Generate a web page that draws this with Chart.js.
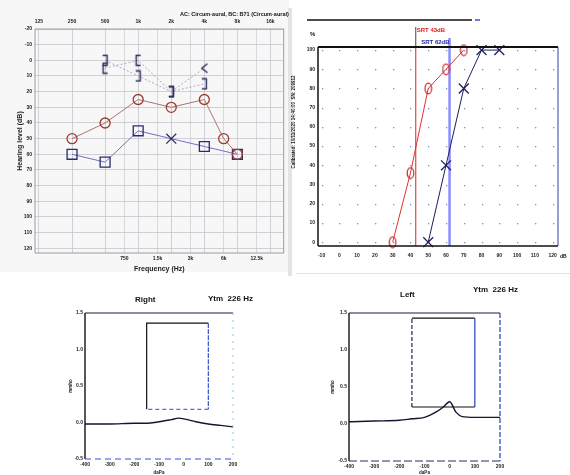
<!DOCTYPE html>
<html>
<head>
<meta charset="utf-8">
<script src="https://cdn.jsdelivr.net/npm/chart.js@4.4.1/dist/chart.umd.min.js"></script>
<style>
  html, body { margin: 0; padding: 0; background: #fff; }
  #page { position: relative; width: 570px; height: 475px; overflow: hidden; font-family: "Liberation Sans", Arial, sans-serif; }
  canvas { position: absolute; }
  .txt { position: absolute; white-space: nowrap; color: #111; font-weight: bold; }
</style>
</head>
<body>
<div id="page">
  <div style="position:absolute;left:0;top:0;width:289px;height:272px;background:#f7f7f7;"></div>
  <div style="position:absolute;left:288px;top:8px;width:4px;height:268px;background:#e4e4e8;"></div>
  <div style="position:absolute;left:296px;top:273px;width:274px;height:1px;background:#e2e2e2;"></div>

  <canvas id="audiogram" width="292" height="275" style="left:0;top:0"></canvas>
  <canvas id="speech" width="278" height="280" style="left:292px;top:0"></canvas>
  <canvas id="tympRight" width="200" height="190" style="left:50px;top:285px"></canvas>
  <canvas id="tympLeft" width="270" height="190" style="left:300px;top:285px"></canvas>

  <div class="txt" style="left:180px;top:11px;font-size:5.5px;">AC: Circum-aural, BC: B71 (Circum-aural)</div>
  <div class="txt" style="left:293px;top:122px;font-size:4.5px;transform:translate(-50%,-50%) rotate(-90deg);">Calibrated: 10/11/2020 14:40:00&nbsp; SN: 209912</div>
  <div class="txt" style="left:310px;top:31px;font-size:6px;">%</div>
  <div class="txt" style="left:560px;top:253px;font-size:5px;">dB</div>

  <div class="txt" style="left:135px;top:295px;font-size:8px;">Right</div>
  <div class="txt" style="left:208px;top:294px;font-size:8px;">Ytm&nbsp; 226 Hz</div>
  <div class="txt" style="left:400px;top:290px;font-size:8px;">Left</div>
  <div class="txt" style="left:473px;top:285px;font-size:8px;">Ytm&nbsp; 226 Hz</div>
</div>

<script>
// ---------- audiogram ----------
const octaveFreqs = [125, 250, 500, 1000, 2000, 4000, 8000, 16000];
const octaveLabels = ['125', '250', '500', '1k', '2k', '4k', '8k', '16k'];
const midFreqs = [750, 1500, 3000, 6000, 12000];
const midLabels = ['750', '1.5k', '3k', '6k', '12.5k'];
const hearingTicks = [-20, -10, 0, 10, 20, 30, 40, 50, 60, 70, 80, 90, 100, 110, 120];

const acFreqsRight = [250, 500, 1000, 2000, 4000, 6000, 8000];
const acRight = [50, 40, 25, 30, 25, 50, 60];
const acFreqsLeft = [250, 500, 1000, 2000, 4000, 8000];
const acLeft = [60, 65, 45, 50, 55, 60];
const acLeftSymbols = ['rect', 'rect', 'rect', 'crossRot', 'rect', 'rect'];
const bcFreqs = [500, 1000, 2000, 4000];
const bcRight = [5, 0, 20, 5];
const bcRightSymbols = ['[', '[', ']', '<'];
const bcLeft = [0, 10, 20, 15];

// ---------- speech audiometry ----------
const speechLevelTicks = [-10, 0, 10, 20, 30, 40, 50, 60, 70, 80, 90, 100, 110, 120];
const scoreTicks = [0, 10, 20, 30, 40, 50, 60, 70, 80, 90, 100];
const speechLevelsRight = [30, 40, 50, 60, 70];
const speechScoresRight = [0, 36, 80, 90, 100];
const speechLevelsLeft = [50, 60, 70, 80, 90];
const speechScoresLeft = [0, 40, 80, 100, 100];
const srtRight = 43;
const srtLeft = 62;

// ---------- tympanograms ----------
const pressureTicks = [-400, -300, -200, -100, 0, 100, 200];
const admittanceTicks = [-0.5, 0.0, 0.5, 1.0, 1.5];
const tympPressureRight = [-400, -300, -200, -150, -100, -50, -20, 0, 50, 100, 150, 200];
const tympRight = [-0.02, -0.02, -0.01, -0.01, 0.01, 0.04, 0.06, 0.05, 0.01, -0.02, -0.04, -0.06];
const tympPressureLeft = [-400, -300, -200, -150, -100, -50, -25, 0, 25, 50, 100, 150, 200];
const tympLeft = [0.03, 0.04, 0.05, 0.07, 0.09, 0.17, 0.23, 0.30, 0.16, 0.10, 0.09, 0.09, 0.09];
const normBoxRight = { pressure: [-150, 100], admittance: [0.18, 1.36] };
const normBoxLeft = { pressure: [-150, 100], admittance: [0.23, 1.43] };

// helpers
const oct = f => Math.log2(f / 125);
const fixTicks = values => scale => { scale.ticks = values.map(v => ({ value: v })); };
const fixSize = px => scale => { if (scale.isHorizontal()) scale.height = px; else scale.width = px; };
const tinyFont = { family: 'Liberation Sans', size: 5, weight: 'bold' };

function bracketIcon(kind, color) {
  const c = document.createElement('canvas');
  c.width = 9; c.height = 13;
  const g = c.getContext('2d');
  g.strokeStyle = color; g.lineWidth = 1.4;
  g.beginPath();
  if (kind === '[') { g.moveTo(7, 1.5); g.lineTo(2.5, 1.5); g.lineTo(2.5, 11.5); g.lineTo(7, 11.5); }
  else if (kind === ']') { g.moveTo(2, 1.5); g.lineTo(6.5, 1.5); g.lineTo(6.5, 11.5); g.lineTo(2, 11.5); }
  else { g.moveTo(7.5, 2); g.lineTo(2, 6.5); g.lineTo(7.5, 11); }
  g.stroke();
  return c;
}

function ellipseIcon(w, h, color, lw) {
  const c = document.createElement('canvas');
  c.width = w; c.height = h;
  const g = c.getContext('2d');
  g.strokeStyle = color; g.lineWidth = lw;
  g.beginPath();
  g.ellipse(w / 2, h / 2, w / 2 - lw, h / 2 - lw, 0, 0, Math.PI * 2);
  g.stroke();
  return c;
}

// frame drawn side by side so each edge can look like the scan
const framePlugin = {
  id: 'frame',
  afterDraw(chart, args, opts) {
    if (!opts.sides) return;
    const { ctx, chartArea: a } = chart;
    const edges = {
      top: [a.left, a.top, a.right, a.top],
      bottom: [a.left, a.bottom, a.right, a.bottom],
      left: [a.left, a.top, a.left, a.bottom],
      right: [a.right, a.top, a.right, a.bottom]
    };
    ctx.save();
    for (const side in opts.sides) {
      const s = opts.sides[side];
      const [x1, y1, x2, y2] = edges[side];
      ctx.strokeStyle = s.color;
      ctx.lineWidth = s.width || 1;
      ctx.setLineDash(s.dash || []);
      ctx.beginPath(); ctx.moveTo(x1, y1); ctx.lineTo(x2, y2); ctx.stroke();
    }
    ctx.restore();
  }
};
Chart.register(framePlugin);

Chart.defaults.animation = false;
Chart.defaults.plugins.legend.display = false;
Chart.defaults.plugins.tooltip.enabled = false;
Chart.defaults.color = '#222';

// ===== audiogram =====
new Chart(document.getElementById('audiogram'), {
  type: 'line',
  data: {
    datasets: [
      {
        data: acFreqsRight.map((f, i) => ({ x: oct(f), y: acRight[i] })),
        borderColor: '#ad7272', borderWidth: 1,
        pointStyle: 'circle', pointRadius: 5, pointBorderWidth: 1.3,
        pointBorderColor: '#9a3c2e', pointBackgroundColor: 'rgba(0,0,0,0)', clip: false
      },
      {
        data: acFreqsLeft.map((f, i) => ({ x: oct(f), y: acLeft[i] })),
        borderColor: '#7070c8', borderWidth: 1,
        pointStyle: acLeftSymbols, pointRadius: 7, pointBorderWidth: 1.3,
        pointBorderColor: '#2c2c6c', pointBackgroundColor: 'rgba(0,0,0,0)', clip: false
      },
      {
        data: bcFreqs.map((f, i) => ({ x: oct(f), y: bcRight[i] })),
        borderColor: '#a0a0c8', borderWidth: 0.9, borderDash: [2, 2],
        pointStyle: bcRightSymbols.map(s => bracketIcon(s, '#2a2a5a')), clip: false
      },
      {
        data: bcFreqs.map((f, i) => ({ x: oct(f), y: bcLeft[i] })),
        borderColor: '#a0a0c8', borderWidth: 0.9, borderDash: [2, 2],
        pointStyle: bcFreqs.map(() => bracketIcon(']', '#2a2a5a')), clip: false
      }
    ]
  },
  options: {
    responsive: false,
    layout: { padding: { left: 12, right: 7, top: 19, bottom: 2 } },
    scales: {
      x: {
        type: 'linear', position: 'bottom', min: -0.12, max: 7.4,
        afterBuildTicks: fixTicks(midFreqs.map(oct)),
        afterFit: fixSize(20),
        grid: { color: '#cfcfd6', lineWidth: 0.8, drawTicks: false },
        border: { display: false },
        ticks: { font: tinyFont, padding: 3, maxRotation: 0, callback: (v, i) => midLabels[i] },
        title: { display: true, text: 'Frequency (Hz)', font: { family: 'Liberation Sans', size: 7, weight: 'bold' }, padding: 0 }
      },
      x2: {
        type: 'linear', position: 'top', min: -0.12, max: 7.4,
        afterBuildTicks: fixTicks(octaveFreqs.map(oct)),
        afterFit: fixSize(10),
        grid: { color: '#c4c4cc', lineWidth: 0.8, drawTicks: false },
        border: { display: false },
        ticks: { font: tinyFont, padding: 4, maxRotation: 0, callback: (v, i) => octaveLabels[i] }
      },
      y: {
        type: 'linear', reverse: true, min: -20, max: 123,
        afterBuildTicks: fixTicks(hearingTicks),
        afterFit: fixSize(23),
        grid: { color: '#c4c4cc', lineWidth: 0.8, drawTicks: false },
        border: { display: false },
        ticks: { font: tinyFont, padding: 3 },
        title: { display: true, text: 'Hearing level (dB)', font: { family: 'Liberation Sans', size: 7, weight: 'bold' }, padding: { top: 4 } }
      }
    },
    plugins: {
      frame: { sides: {
        top: { color: '#9a9aa4' }, bottom: { color: '#9a9aa4' },
        left: { color: '#9a9aa4' }, right: { color: '#9a9aa4' }
      } }
    }
  }
});

// ===== speech audiometry =====
const speechDecor = {
  id: 'speechDecor',
  beforeDatasetsDraw(chart) {
    const { ctx, chartArea: a, scales: { x, y } } = chart;
    ctx.save();
    // dotted grid
    ctx.fillStyle = '#8888c4';
    speechLevelTicks.forEach(v => scoreTicks.forEach(p => {
      ctx.fillRect(Math.round(x.getPixelForValue(v)), Math.round(y.getPixelForValue(p)), 1.3, 1.3);
    }));
    // header rule
    ctx.strokeStyle = '#111'; ctx.lineWidth = 1.5;
    ctx.beginPath(); ctx.moveTo(15, 20); ctx.lineTo(180, 20); ctx.stroke();
    ctx.strokeStyle = '#3050d0';
    ctx.beginPath(); ctx.moveTo(183, 20); ctx.lineTo(188, 20); ctx.stroke();
    // SRT lines
    const xr = x.getPixelForValue(srtRight);
    const xl = x.getPixelForValue(srtLeft);
    ctx.lineWidth = 1;
    ctx.strokeStyle = '#444';
    ctx.beginPath(); ctx.moveTo(xr, 27); ctx.lineTo(xr, a.top); ctx.stroke();
    ctx.strokeStyle = '#e02020';
    ctx.beginPath(); ctx.moveTo(xr, a.top); ctx.lineTo(xr, a.bottom); ctx.stroke();
    ctx.strokeStyle = '#8c8cff'; ctx.lineWidth = 2.5;
    ctx.beginPath(); ctx.moveTo(xl, 38); ctx.lineTo(xl, a.bottom); ctx.stroke();
    ctx.font = 'bold 6px "Liberation Sans"';
    ctx.textBaseline = 'middle';
    ctx.fillStyle = '#e02020'; ctx.textAlign = 'left';
    ctx.fillText('SRT ' + srtRight + 'dB', xr + 1, 30);
    ctx.fillStyle = '#1a2aa0'; ctx.textAlign = 'right';
    ctx.fillText('SRT ' + srtLeft + 'dB', xl, 42);
    ctx.restore();
  }
};

new Chart(document.getElementById('speech'), {
  type: 'line',
  data: {
    datasets: [
      {
        data: speechLevelsRight.map((v, i) => ({ x: v, y: speechScoresRight[i] })),
        borderColor: '#e03030', borderWidth: 1,
        pointStyle: ellipseIcon(9, 13, '#d02828', 1.2), clip: false
      },
      {
        data: speechLevelsLeft.map((v, i) => ({ x: v, y: speechScoresLeft[i] })),
        borderColor: '#1e1e5a', borderWidth: 1,
        pointStyle: 'crossRot', pointRadius: 7, pointBorderWidth: 1.3,
        pointBorderColor: '#1e1e5a', clip: false
      }
    ]
  },
  options: {
    responsive: false,
    layout: { padding: { left: 12, right: 12, top: 47, bottom: 18 } },
    scales: {
      x: {
        type: 'linear', min: -12, max: 123,
        afterBuildTicks: fixTicks(speechLevelTicks),
        afterFit: fixSize(16),
        grid: { display: false, drawTicks: false },
        border: { display: false },
        ticks: { font: tinyFont, padding: 7, maxRotation: 0 }
      },
      y: {
        type: 'linear', min: -2, max: 101.6,
        afterBuildTicks: fixTicks(scoreTicks),
        afterFit: fixSize(14),
        grid: { display: false, drawTicks: false },
        border: { display: false },
        ticks: { font: tinyFont, padding: 3 }
      }
    },
    plugins: {
      frame: { sides: {
        top: { color: '#111', width: 2.2 }, bottom: { color: '#111', width: 1.5 },
        left: { color: '#111', width: 1.5 }, right: { color: '#3040b0', width: 1 }
      } }
    }
  },
  plugins: [speechDecor]
});

// ===== tympanograms =====
function tympChart(id, pressures, values, box, pad, yWidth, xHeight, titlePad, boxStyle, frameSides) {
  const [p1, p2] = box.pressure;
  const [a1, a2] = box.admittance;
  return new Chart(document.getElementById(id), {
    type: 'line',
    data: {
      datasets: [
        {
          data: pressures.map((p, i) => ({ x: p, y: values[i] })),
          borderColor: '#151530', borderWidth: 1.4, pointRadius: 0,
          cubicInterpolationMode: 'monotone'
        },
        {
          data: [{ x: p1, y: a1 }, { x: p1, y: a2 }, { x: p2, y: a2 }, { x: p2, y: a1 }, { x: p1, y: a1 }],
          pointRadius: 0, borderWidth: 1.2, borderColor: '#151530',
          segment: {
            borderColor: c => boxStyle[c.p0DataIndex].color,
            borderDash: c => boxStyle[c.p0DataIndex].dash
          }
        }
      ]
    },
    options: {
      responsive: false,
      layout: { padding: pad },
      scales: {
        x: {
          type: 'linear', min: -400, max: 200,
          afterBuildTicks: fixTicks(pressureTicks),
          afterFit: fixSize(xHeight),
          grid: { display: false, drawTicks: false },
          border: { display: false },
          ticks: { font: { family: 'Liberation Sans', size: 5, weight: 'bold' }, padding: 3, maxRotation: 0 },
          title: { display: true, text: 'daPa', font: { family: 'Liberation Sans', size: 4.5, weight: 'bold' }, padding: 0 }
        },
        y: {
          type: 'linear', min: -0.5, max: 1.5,
          afterBuildTicks: fixTicks(admittanceTicks),
          afterFit: fixSize(yWidth),
          grid: { display: false, drawTicks: false },
          border: { display: false },
          ticks: { font: { family: 'Liberation Sans', size: 5, weight: 'bold' }, padding: 2, callback: v => v.toFixed(1) },
          title: { display: true, text: 'mmho', font: { family: 'Liberation Sans', size: 4.5, weight: 'bold' }, padding: { top: titlePad } }
        }
      },
      plugins: { frame: { sides: frameSides } }
    }
  });
}

tympChart('tympRight', tympPressureRight, tympRight, normBoxRight,
  { left: 16, right: 17, top: 28, bottom: 0 }, 19, 16, 2.5,
  [ { color: '#111', dash: [] }, { color: '#111', dash: [] },
    { color: '#3050d0', dash: [3, 3] }, { color: '#5070e0', dash: [4, 3] } ],
  { left: { color: '#111', width: 1.4 }, top: { color: '#1a1a40', width: 1.2 },
    right: { color: '#80c8f0', width: 1, dash: [2, 5] }, bottom: { color: '#3050d0', width: 1, dash: [6, 4] } });

tympChart('tympLeft', tympPressureLeft, tympLeft, normBoxLeft,
  { left: 30, right: 70, top: 28, bottom: 0 }, 19, 14, 0,
  [ { color: '#222250', dash: [4, 2] }, { color: '#111', dash: [] },
    { color: '#2040c0', dash: [4, 2] }, { color: '#111', dash: [] } ],
  { left: { color: '#111', width: 1.4 }, top: { color: '#1a1a40', width: 1.2 },
    right: { color: '#2040c0', width: 1.2, dash: [5, 2] }, bottom: { color: '#2a2a70', width: 1, dash: [8, 3] } });
</script>
</body>
</html>
